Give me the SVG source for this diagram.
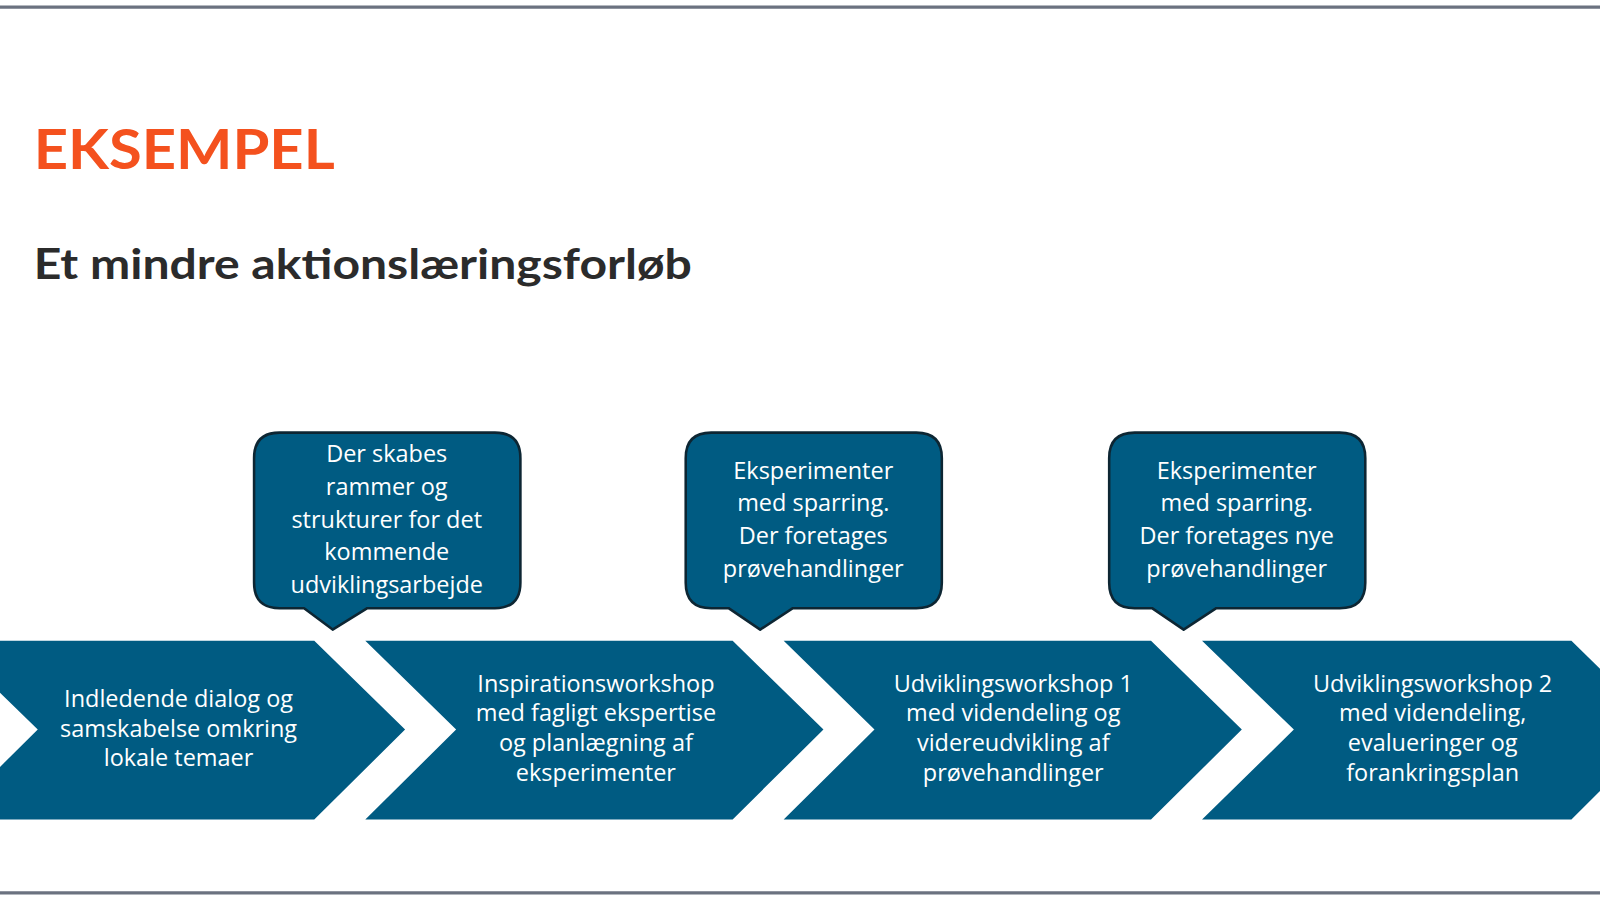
<svg xmlns="http://www.w3.org/2000/svg" width="1600" height="900" viewBox="0 0 1600 900">
<style>
.ch{fill:#005b82}
.co{fill:#005b82;stroke:#0d2633;stroke-width:2.5;stroke-linejoin:round}
.t{font-family:"Open Sans","Liberation Sans",sans-serif;font-size:23px;fill:#fff;text-anchor:middle;font-weight:500}
</style>
<rect width="1600" height="900" fill="#fff"/>
<g transform="scale(1.0204)">
<line x1="0" y1="7" x2="1570" y2="7" stroke="#6b7280" stroke-width="3"/>
<line x1="0" y1="875" x2="1570" y2="875" stroke="#6b7280" stroke-width="3"/>
<text x="33" y="166" font-family="Lato,'Liberation Sans',sans-serif" font-weight="bold" font-size="54" fill="#f4511e" textLength="295" lengthAdjust="spacingAndGlyphs">EKSEMPEL</text>
<text x="33" y="273" font-family="Lato,'Liberation Sans',sans-serif" font-weight="bold" font-size="41" fill="#2b2b2b" textLength="645" lengthAdjust="spacingAndGlyphs">Et mindre aktionslæringsforløb</text>
<g id="step1"><polygon class="ch" points="-52,628 308,628 397,715 308,803 -52,803 37,715"/>
<text class="t"><tspan x="175" y="693">Indledende dialog og</tspan><tspan x="175" y="722">samskabelse omkring</tspan><tspan x="175" y="751">lokale temaer</tspan></text></g>
<g id="step2"><polygon class="ch" points="358,628 718,628 807,715 718,803 358,803 447,715"/>
<text class="t"><tspan x="584" y="678">Inspirationsworkshop</tspan><tspan x="584" y="707">med fagligt ekspertise</tspan><tspan x="584" y="736">og planlægning af</tspan><tspan x="584" y="765">eksperimenter</tspan></text></g>
<g id="step3"><polygon class="ch" points="768,628 1128,628 1217,715 1128,803 768,803 857,715"/>
<text class="t"><tspan x="993" y="678">Udviklingsworkshop 1</tspan><tspan x="993" y="707">med videndeling og</tspan><tspan x="993" y="736">videreudvikling af</tspan><tspan x="993" y="765">prøvehandlinger</tspan></text></g>
<g id="step4"><polygon class="ch" points="1178,628 1540,628 1629,715 1540,803 1178,803 1268,715"/>
<text class="t"><tspan x="1404" y="678">Udviklingsworkshop 2</tspan><tspan x="1404" y="707">med videndeling,</tspan><tspan x="1404" y="736">evalueringer og</tspan><tspan x="1404" y="765">forankringsplan</tspan></text></g>
<g id="callout1"><path class="co" d="M274,424 H485 Q510,424 510,449 V571 Q510,596 485,596 H360 L326,617 L298,596 H274 Q249,596 249,571 V449 Q249,424 274,424 Z"/>
<text class="t"><tspan x="379" y="453">Der skabes</tspan><tspan x="379" y="485">rammer og</tspan><tspan x="379" y="517">strukturer for det</tspan><tspan x="379" y="549">kommende</tspan><tspan x="379" y="581">udviklingsarbejde</tspan></text></g>
<g id="callout2"><path class="co" d="M697,424 H898 Q923,424 923,449 V571 Q923,596 898,596 H777 L745,617 L714,596 H697 Q672,596 672,571 V449 Q672,424 697,424 Z"/>
<text class="t"><tspan x="797" y="469">Eksperimenter</tspan><tspan x="797" y="501">med sparring.</tspan><tspan x="797" y="533">Der foretages</tspan><tspan x="797" y="565">prøvehandlinger</tspan></text></g>
<g id="callout3"><path class="co" d="M1112,424 H1313 Q1338,424 1338,449 V571 Q1338,596 1313,596 H1192 L1160,617 L1129,596 H1112 Q1087,596 1087,571 V449 Q1087,424 1112,424 Z"/>
<text class="t"><tspan x="1212" y="469">Eksperimenter</tspan><tspan x="1212" y="501">med sparring.</tspan><tspan x="1212" y="533">Der foretages nye</tspan><tspan x="1212" y="565">prøvehandlinger</tspan></text></g>
<g id="connectors"/>
</g>
</svg>
